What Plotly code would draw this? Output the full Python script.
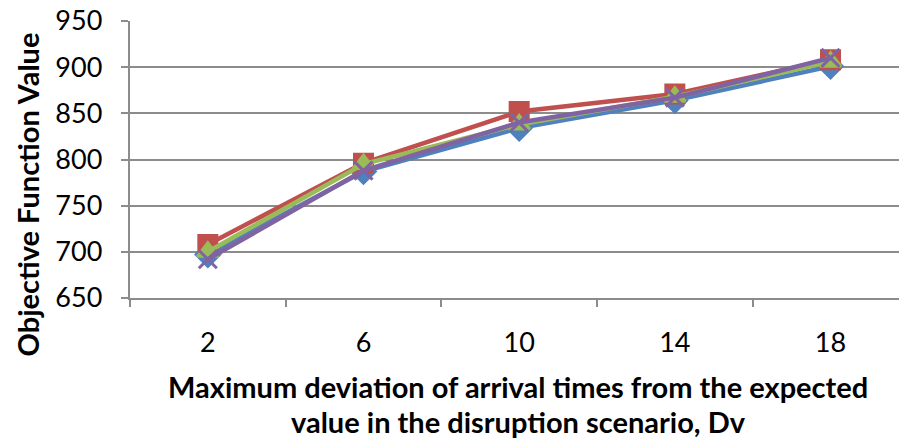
import plotly.graph_objects as go

# Maximum deviation of arrival times (Dv) and the objective value per series
dv_labels = ["2", "6", "10", "14", "18"]
series_blue = [697, 787, 834, 864, 901]
series_red = [708, 796, 852, 871, 908]
series_green = [700, 795, 838, 868, 906]
series_purple = [692, 788, 840, 867, 910]

x_pos = list(range(len(dv_labels)))

styles = [
    (series_blue, "#4F81BD", "diamond"),
    (series_red, "#C0504D", "square"),
    (series_green, "#9BBB59", "triangle-up"),
    (series_purple, "#8064A2", "x-thin"),
]

fig = go.Figure()
for vals, color, sym in styles:
    fig.add_trace(go.Scatter(
        x=x_pos, y=vals, mode="lines+markers",
        line=dict(color=color, width=4.5),
        marker=dict(symbol=sym, size=18, color=color,
                    line=dict(color=color, width=3)),
        showlegend=False,
    ))

font_family = "Lato, 'Open Sans', sans-serif"
grid_col = "#8C8C8C"
plot_w = 769  # plotting width in px (899 - left margin)

fig.update_layout(
    width=899, height=442,
    margin=dict(l=130, r=0, t=21, b=144),
    plot_bgcolor="white", paper_bgcolor="white",
    font=dict(family=font_family, size=27, color="black"),
    xaxis=dict(
        range=[-0.5, 4.44],
        tickmode="array", tickvals=x_pos, ticktext=dv_labels,
        ticks="", showgrid=False, zeroline=False,
        showline=True, linecolor=grid_col, linewidth=1.5,
        minor=dict(tickmode="array", tickvals=[-0.5, 0.5, 1.5, 2.5, 3.5],
                   ticks="outside", ticklen=7, tickcolor=grid_col,
                   tickwidth=1.5, showgrid=False),
        ticklabelstandoff=20,
    ),
    yaxis=dict(
        range=[650, 950], dtick=50, tick0=650,
        showgrid=True, gridcolor=grid_col, gridwidth=1.5,
        zeroline=False, showline=True, linecolor=grid_col, linewidth=1.5,
        ticks="outside", ticklen=7, tickcolor=grid_col, tickwidth=1.5,
        ticksuffix="\u2002",
    ),
    annotations=[
        dict(text="<b>Objective Function Value</b>", textangle=-90,
             xref="paper", yref="paper", x=(27 - 130) / plot_w, y=0.5,
             xanchor="center", yanchor="middle", yshift=-35, showarrow=False,
             font=dict(size=29)),
        dict(text="<b>Maximum deviation of arrival times from the expected</b>",
             xref="paper", yref="paper", x=(518 - 130) / plot_w, y=0,
             xanchor="center", yanchor="middle", yshift=-88, showarrow=False,
             font=dict(size=29)),
        dict(text="<b>value in the disruption scenario, Dv</b>",
             xref="paper", yref="paper", x=(518 - 130) / plot_w, y=0,
             xanchor="center", yanchor="middle", yshift=-123, showarrow=False,
             font=dict(size=29)),
    ],
)

fig.write_html("out.html")
